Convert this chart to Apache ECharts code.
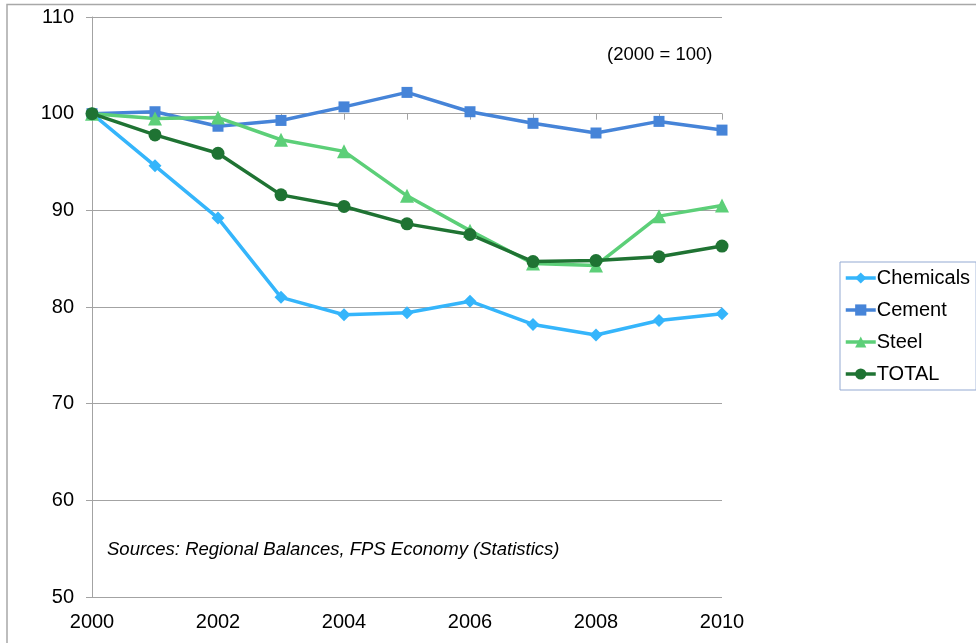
<!DOCTYPE html>
<html>
<head>
<meta charset="utf-8">
<script src="https://cdn.jsdelivr.net/npm/echarts@6/dist/echarts.min.js"></script>
<style>
  html, body { margin: 0; padding: 0; background: #fff; }
  #chart { width: 976px; height: 643px; }
</style>
</head>
<body>
<div id="chart"></div>
<script>
// Index of energy consumption by sector (2000 = 100)
const years = [2000, 2001, 2002, 2003, 2004, 2005, 2006, 2007, 2008, 2009, 2010];
const chemicals = [100, 94.6, 89.2, 81.0, 79.2, 79.4, 80.6, 78.2, 77.1, 78.6, 79.3];
const cement    = [100, 100.2, 98.7, 99.3, 100.7, 102.2, 100.2, 99.0, 98.0, 99.2, 98.3];
const steel     = [100, 99.5, 99.6, 97.3, 96.1, 91.5, 87.9, 84.5, 84.3, 89.4, 90.5];
const total     = [100, 97.8, 95.9, 91.6, 90.4, 88.6, 87.5, 84.7, 84.8, 85.2, 86.3];

const FONT = '"Liberation Sans", Arial, sans-serif';
const GRID_GREY = '#a3a3a3';

function pairs(values) {
  return years.map((y, i) => [y, values[i]]);
}

function lineSeries(name, values, color, symbol, size) {
  return {
    name: name,
    type: 'line',
    data: pairs(values),
    symbol: symbol,
    symbolSize: size,
    lineStyle: { color: color, width: 3.5 },
    itemStyle: { color: color },
    emphasis: { disabled: true },
    animation: false
  };
}

const chart = echarts.init(document.getElementById('chart'), null, { renderer: 'canvas' });

chart.setOption({
  backgroundColor: '#ffffff',
  animation: false,
  textStyle: { fontFamily: FONT },
  grid: [
    { left: 92, right: 254, top: 17, bottom: 46 },
    // thin band whose bottom edge sits on the 100 line, carrying the year ticks
    { left: 92, right: 254, top: 17, height: 96.67 }
  ],
  xAxis: [
    {
      type: 'value', gridIndex: 0,
      min: 2000, max: 2010, interval: 2,
      axisLine: { show: false },
      axisTick: { show: false },
      splitLine: { show: false },
      axisLabel: { color: '#000', fontSize: 20, fontFamily: FONT, margin: 15, formatter: v => String(v) }
    },
    {
      type: 'value', gridIndex: 1,
      min: 2000, max: 2010, interval: 1,
      axisLine: { show: true, lineStyle: { color: GRID_GREY, width: 1 } },
      axisTick: { show: true, length: 6, lineStyle: { color: GRID_GREY } },
      axisLabel: { show: false },
      splitLine: { show: false }
    }
  ],
  yAxis: [
    {
      type: 'value', gridIndex: 0,
      min: 50, max: 110, interval: 10,
      axisLine: { show: true, lineStyle: { color: GRID_GREY, width: 1 } },
      axisTick: { show: true, length: 6, lineStyle: { color: GRID_GREY } },
      splitLine: { show: true, lineStyle: { color: GRID_GREY, width: 1 } },
      axisLabel: { color: '#000', fontSize: 20, fontFamily: FONT, margin: 18 }
    },
    {
      type: 'value', gridIndex: 1, min: 0, max: 1, show: false
    }
  ],
  legend: {
    orient: 'vertical',
    left: 840, top: 262,
    padding: [6, 6, 6, 4],
    itemGap: 12,
    itemWidth: 30,
    itemHeight: 14,
    lineStyle: { width: 3.5 },
    borderColor: '#93a9d2',
    borderWidth: 1,
    textStyle: { color: '#000', fontSize: 20, fontFamily: FONT, lineHeight: 20, padding: [0, 0, 0, -4] },
    data: ['Chemicals', 'Cement', 'Steel', 'TOTAL']
  },
  series: [
    lineSeries('Chemicals', chemicals, '#35b5fb', 'diamond', 13),
    lineSeries('Cement', cement, '#4684d8', 'rect', 11),
    lineSeries('Steel', steel, '#5ccf78', 'triangle', 14),
    lineSeries('TOTAL', total, '#1f7333', 'circle', 13)
  ],
  graphic: [
    {
      type: 'rect', silent: true,
      shape: { x: 7, y: 4.5, width: 1200, height: 900 },
      style: { fill: 'none', stroke: '#a8a8a8', lineWidth: 1.5 }
    },
    {
      type: 'text', left: 607, top: 45, silent: true,
      style: { text: '(2000 = 100)', fill: '#000', font: '18.5px ' + FONT }
    },
    {
      type: 'text', left: 107, top: 540, silent: true,
      style: { text: 'Sources: Regional Balances, FPS Economy (Statistics)', fill: '#000', font: 'italic 18.5px ' + FONT }
    }
  ]
});
</script>
</body>
</html>
